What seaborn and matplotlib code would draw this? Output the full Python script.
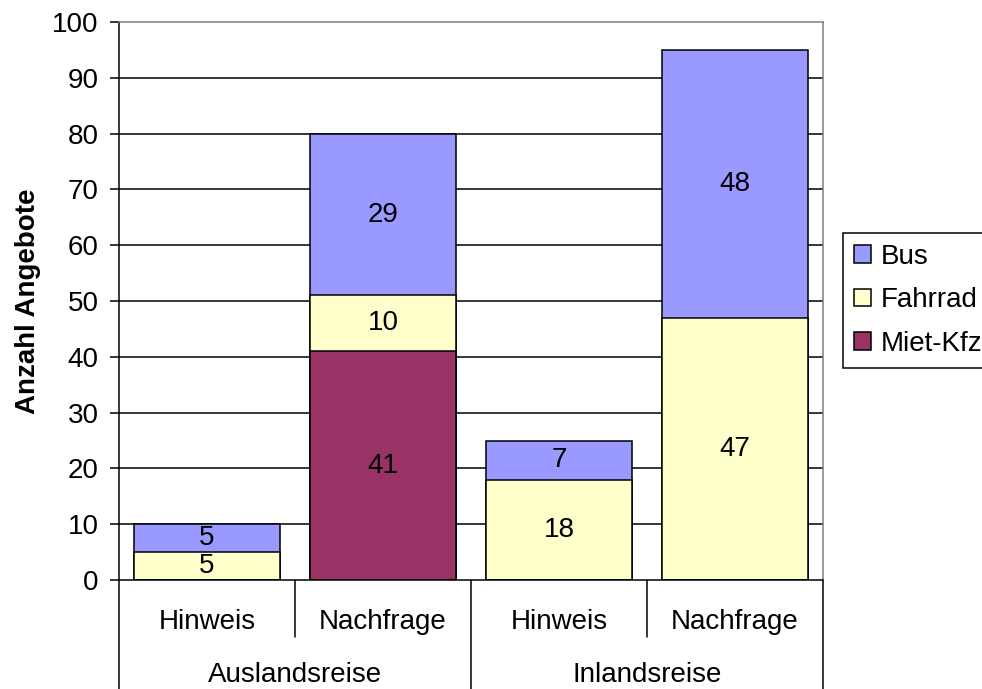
import matplotlib
matplotlib.use("Agg")
import matplotlib.pyplot as plt
import matplotlib.transforms as mtransforms
from matplotlib.patches import Patch
import numpy as np
import pandas as pd
import seaborn as sns

# Categories (inner level / outer level)
inner_labels = ["Hinweis", "Nachfrage", "Hinweis", "Nachfrage"]
outer_labels = ["Auslandsreise", "Inlandsreise"]
bar_keys = ["A-Hinweis", "A-Nachfrage", "I-Hinweis", "I-Nachfrage"]

# Stacked series, bottom to top
series_names = ["Miet-Kfz", "Fahrrad", "Bus"]
miet_kfz = [0, 41, 0, 0]
fahrrad = [5, 10, 18, 47]
bus = [5, 29, 7, 48]
series_colors = {"Bus": "#9999FF", "Fahrrad": "#FFFFCC", "Miet-Kfz": "#993366"}

y_ticks = list(range(0, 101, 10))

sns.set_theme(style="white")
plt.rcParams["font.family"] = ["Liberation Sans", "DejaVu Sans"]
plt.rcParams.update({"text.color": "black", "axes.labelcolor": "black",
                     "xtick.color": "black", "ytick.color": "black"})
FS = 20

fig = plt.figure(figsize=(9.82, 6.89), dpi=100)
ax = fig.add_axes([119 / 982, 1 - 580 / 689, (823 - 119) / 982, (580 - 22) / 689])

values = {"Miet-Kfz": miet_kfz, "Fahrrad": fahrrad, "Bus": bus}
cum = np.cumsum([values[n] for n in series_names], axis=0)

# Horizontal gridlines behind the bars
for t in y_ticks[1:-1]:
    ax.axhline(t, color="black", lw=1.1, zorder=0)

# Draw stacks from the top down so each lower segment covers the one above
for i in range(len(series_names) - 1, -1, -1):
    name = series_names[i]
    df = pd.DataFrame({"cat": bar_keys, "val": cum[i]})
    sns.barplot(data=df, x="cat", y="val", order=bar_keys, color=series_colors[name],
                saturation=1, width=0.83, edgecolor="black", linewidth=1.1,
                ax=ax, zorder=2)

# Value labels centred in each segment
for i, name in enumerate(series_names):
    lows = cum[i] - np.array(values[name])
    for j, v in enumerate(values[name]):
        if v > 0:
            ax.text(j, lows[j] + v / 2, str(v), ha="center", va="center",
                    fontsize=FS, color="black", zorder=5)

ax.set_xlim(-0.5, 3.5)
ax.set_ylim(0, 100)
ax.set_yticks(y_ticks)
ax.set_yticklabels([str(t) for t in y_ticks], fontsize=FS, color="black")
ax.tick_params(axis="y", direction="out", length=6.5, width=1.1, color="black",
               pad=8, left=True)
ax.set_xticks([])
ax.set_xlabel("")
ax.set_ylabel("Anzahl Angebote", fontsize=FS, fontweight="bold", color="black")
ax.yaxis.set_label_coords((41 - 119) / (823 - 119), 0.5)

for s in ["top", "right"]:
    ax.spines[s].set_color("#808080")
    ax.spines[s].set_linewidth(1.1)
for s in ["left", "bottom"]:
    ax.spines[s].set_color("black")
    ax.spines[s].set_linewidth(1.1)

# Two-level category axis below the plot area
trans = mtransforms.blended_transform_factory(ax.transData, fig.transFigure)
y_axis = 1 - 580 / 689
y_mid = 1 - 637 / 689
y_bot = 0.0
for x in [-0.5, 1.5, 3.5]:
    ax.plot([x, x], [y_axis, y_bot], transform=trans, color="black", lw=1.1, clip_on=False)
for x in [0.5, 2.5]:
    ax.plot([x, x], [y_axis, y_mid], transform=trans, color="black", lw=1.1, clip_on=False)
for j, lab in enumerate(inner_labels):
    ax.text(j, 1 - 622 / 689, lab, transform=trans, ha="center", va="center",
            fontsize=FS, color="black")
for k, lab in enumerate(outer_labels):
    ax.text(2 * k + 0.5, 1 - 675 / 689, lab, transform=trans, ha="center", va="center",
            fontsize=FS, color="black")

# Legend
handles = [Patch(facecolor=series_colors[n], edgecolor="black", linewidth=1.1)
           for n in ["Bus", "Fahrrad", "Miet-Kfz"]]
leg = fig.legend(handles, ["Bus", "Fahrrad", "Miet-Kfz"], loc="upper left",
                 bbox_to_anchor=(843 / 982, 1 - 233 / 689), fontsize=FS,
                 frameon=True, fancybox=False, framealpha=1, edgecolor="black",
                 handlelength=0.6, handleheight=0.6, handletextpad=0.35,
                 labelspacing=0.62, borderpad=0.4, borderaxespad=0)
leg.get_frame().set_linewidth(1.1)
for t in leg.get_texts():
    t.set_color("black")

fig.savefig("out.png", dpi=100)
